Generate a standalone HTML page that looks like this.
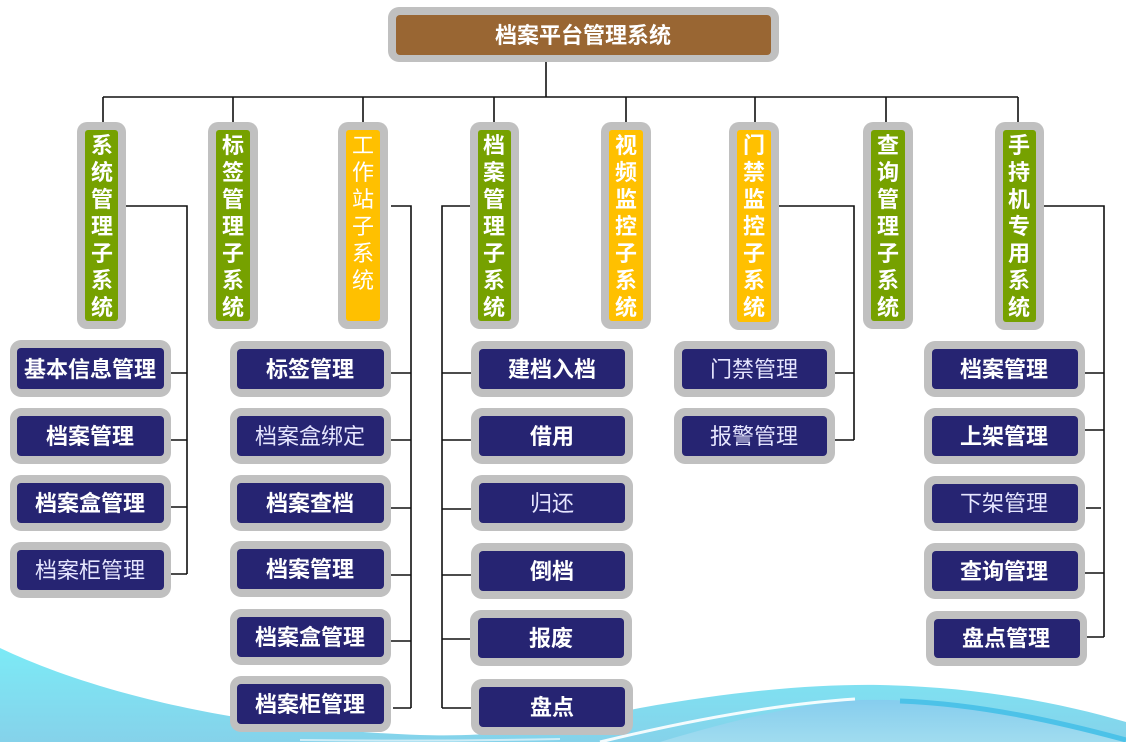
<!DOCTYPE html>
<html>
<head>
<meta charset="utf-8">
<style>
html,body{margin:0;padding:0;background:#fff;}
svg{display:block;}
text{font-family:"Liberation Sans","Noto Sans CJK SC","WenQuanYi Zen Hei",sans-serif;}
.b{font-weight:bold;fill:#fff;font-size:22px;}
.n{font-weight:normal;fill:#e6e6ff;font-size:22px;}
.v{font-weight:bold;fill:#fff;font-size:22px;}
.vn{font-weight:normal;fill:#fff;font-size:22px;}
</style>
</head>
<body>
<svg width="1126" height="742" viewBox="0 0 1126 742" xmlns="http://www.w3.org/2000/svg">
<defs>
<linearGradient id="gl" x1="0" y1="0" x2="0" y2="1">
<stop offset="0" stop-color="#7ceaf6"/>
<stop offset="1" stop-color="#85d2ea"/>
</linearGradient>
<linearGradient id="gr" x1="0" y1="0" x2="0" y2="1">
<stop offset="0" stop-color="#86cdee"/>
<stop offset="1" stop-color="#a0dcef"/>
</linearGradient>
</defs>

<!-- background waves -->
<path d="M0,648 C80,686 220,728 420,735 C520,738 570,722 640,708 C740,690 820,684 880,685 C980,687 1060,703 1126,722 L1126,742 L0,742 Z" fill="url(#gl)"/>
<path d="M660,742 C740,718 810,702 860,700 C960,698 1060,718 1126,742 Z" fill="url(#gr)"/>
<path d="M900,701 C980,704 1060,722 1126,740" stroke="#4cc2e8" stroke-width="5" fill="none"/>
<path d="M600,742 C690,720 780,704 855,699" stroke="#ffffff" stroke-width="3" fill="none" opacity="0.9"/>
<path d="M300,740 C380,741 460,741 560,739" stroke="#ffffff" stroke-width="2" fill="none" opacity="0.6"/>

<!-- connectors -->
<g stroke="#111" stroke-width="1.6" fill="none">
<path d="M546,62 V97"/>
<path d="M103,97 H1018"/>
<path d="M103,97 V122 M233,97 V122 M363,97 V122 M494,97 V122 M626,97 V122 M755,97 V122 M886,97 V122 M1018,97 V122"/>
<!-- col1 -->
<path d="M126,206 H187 V574"/>
<path d="M171,373 H187 M171,440 H187 M171,507 H187 M171,574 H187"/>
<!-- 工作站 -->
<path d="M391,206 H411 V708"/>
<path d="M391,373 H411 M391,440 H411 M391,508 H411 M391,575 H411 M391,641 H411 M393,708 H411"/>
<!-- 档案 -->
<path d="M470,206 H442 V708"/>
<path d="M442,373 H471 M442,440 H471 M442,509 H471 M442,575 H471 M442,639 H471 M442,708 H471"/>
<!-- 门禁 -->
<path d="M779,206 H854 V440"/>
<path d="M835,373 H854 M835,440 H854"/>
<!-- 手持 -->
<path d="M1044,206 H1104 V637"/>
<path d="M1085,373 H1104 M1085,430 H1104 M1086,508 H1101 M1085,573 H1104 M1087,637 H1104"/>
</g>

<!-- top box -->
<rect x="388" y="7" width="391" height="55" rx="11" fill="#c0c0c0"/>
<rect x="396" y="15" width="375" height="40" rx="4" fill="#996633"/>
<text x="583" y="43" text-anchor="middle" class="b">档案平台管理系统</text>

<!-- vertical boxes -->
<g>
<rect x="77" y="122" width="49" height="207" rx="10" fill="#c0c0c0"/>
<rect x="85" y="130" width="33" height="191" rx="3" fill="#76a100"/>
<rect x="208" y="122" width="50" height="207" rx="10" fill="#c0c0c0"/>
<rect x="216" y="130" width="34" height="191" rx="3" fill="#76a100"/>
<rect x="338" y="122" width="50" height="207" rx="10" fill="#c0c0c0"/>
<rect x="346" y="130" width="34" height="191" rx="3" fill="#ffc000"/>
<rect x="470" y="122" width="49" height="207" rx="10" fill="#c0c0c0"/>
<rect x="478" y="130" width="33" height="191" rx="3" fill="#76a100"/>
<rect x="601" y="122" width="50" height="207" rx="10" fill="#c0c0c0"/>
<rect x="609" y="130" width="34" height="191" rx="3" fill="#ffc000"/>
<rect x="729" y="122" width="50" height="208" rx="10" fill="#c0c0c0"/>
<rect x="737" y="130" width="34" height="192" rx="3" fill="#ffc000"/>
<rect x="863" y="122" width="50" height="207" rx="10" fill="#c0c0c0"/>
<rect x="871" y="130" width="34" height="191" rx="3" fill="#76a100"/>
<rect x="995" y="122" width="49" height="208" rx="10" fill="#c0c0c0"/>
<rect x="1003" y="130" width="33" height="192" rx="3" fill="#76a100"/>
</g>

<g text-anchor="middle">
<text class="v" x="102" y="153">系</text><text class="v" x="102" y="180">统</text><text class="v" x="102" y="207">管</text><text class="v" x="102" y="234">理</text><text class="v" x="102" y="261">子</text><text class="v" x="102" y="288">系</text><text class="v" x="102" y="315">统</text>
<text class="v" x="233" y="153">标</text><text class="v" x="233" y="180">签</text><text class="v" x="233" y="207">管</text><text class="v" x="233" y="234">理</text><text class="v" x="233" y="261">子</text><text class="v" x="233" y="288">系</text><text class="v" x="233" y="315">统</text>
<text class="vn" x="363" y="153">工</text><text class="vn" x="363" y="180">作</text><text class="vn" x="363" y="207">站</text><text class="vn" x="363" y="234">子</text><text class="vn" x="363" y="261">系</text><text class="vn" x="363" y="288">统</text>
<text class="v" x="494" y="153">档</text><text class="v" x="494" y="180">案</text><text class="v" x="494" y="207">管</text><text class="v" x="494" y="234">理</text><text class="v" x="494" y="261">子</text><text class="v" x="494" y="288">系</text><text class="v" x="494" y="315">统</text>
<text class="v" x="626" y="153">视</text><text class="v" x="626" y="180">频</text><text class="v" x="626" y="207">监</text><text class="v" x="626" y="234">控</text><text class="v" x="626" y="261">子</text><text class="v" x="626" y="288">系</text><text class="v" x="626" y="315">统</text>
<text class="v" x="754" y="153">门</text><text class="v" x="754" y="180">禁</text><text class="v" x="754" y="207">监</text><text class="v" x="754" y="234">控</text><text class="v" x="754" y="261">子</text><text class="v" x="754" y="288">系</text><text class="v" x="754" y="315">统</text>
<text class="v" x="888" y="153">查</text><text class="v" x="888" y="180">询</text><text class="v" x="888" y="207">管</text><text class="v" x="888" y="234">理</text><text class="v" x="888" y="261">子</text><text class="v" x="888" y="288">系</text><text class="v" x="888" y="315">统</text>
<text class="v" x="1019" y="153">手</text><text class="v" x="1019" y="180">持</text><text class="v" x="1019" y="207">机</text><text class="v" x="1019" y="234">专</text><text class="v" x="1019" y="261">用</text><text class="v" x="1019" y="288">系</text><text class="v" x="1019" y="315">统</text>
</g>

<!-- child boxes -->
<g id="children">
<!-- col1 -->
<rect x="10" y="340" width="161" height="57" rx="11" fill="#c0c0c0"/><rect x="17" y="348" width="147" height="41" rx="4" fill="#262472"/>
<rect x="10" y="408" width="161" height="56" rx="11" fill="#c0c0c0"/><rect x="17" y="416" width="147" height="40" rx="4" fill="#262472"/>
<rect x="10" y="475" width="161" height="56" rx="11" fill="#c0c0c0"/><rect x="17" y="483" width="147" height="40" rx="4" fill="#262472"/>
<rect x="10" y="542" width="161" height="56" rx="11" fill="#c0c0c0"/><rect x="17" y="550" width="147" height="40" rx="4" fill="#262472"/>
<!-- 工作站 -->
<rect x="230" y="341" width="161" height="56" rx="11" fill="#c0c0c0"/><rect x="237" y="349" width="147" height="40" rx="4" fill="#262472"/>
<rect x="230" y="408" width="161" height="56" rx="11" fill="#c0c0c0"/><rect x="237" y="416" width="147" height="40" rx="4" fill="#262472"/>
<rect x="230" y="475" width="161" height="56" rx="11" fill="#c0c0c0"/><rect x="237" y="483" width="147" height="40" rx="4" fill="#262472"/>
<rect x="230" y="541" width="161" height="56" rx="11" fill="#c0c0c0"/><rect x="237" y="549" width="147" height="40" rx="4" fill="#262472"/>
<rect x="230" y="609" width="161" height="56" rx="11" fill="#c0c0c0"/><rect x="237" y="617" width="147" height="40" rx="4" fill="#262472"/>
<rect x="230" y="676" width="161" height="56" rx="11" fill="#c0c0c0"/><rect x="237" y="684" width="147" height="40" rx="4" fill="#262472"/>
<!-- 档案 -->
<rect x="471" y="341" width="162" height="56" rx="11" fill="#c0c0c0"/><rect x="479" y="349" width="146" height="40" rx="4" fill="#262472"/>
<rect x="471" y="408" width="162" height="56" rx="11" fill="#c0c0c0"/><rect x="479" y="416" width="146" height="40" rx="4" fill="#262472"/>
<rect x="471" y="475" width="162" height="56" rx="11" fill="#c0c0c0"/><rect x="479" y="483" width="146" height="40" rx="4" fill="#262472"/>
<rect x="471" y="543" width="162" height="56" rx="11" fill="#c0c0c0"/><rect x="479" y="551" width="146" height="40" rx="4" fill="#262472"/>
<rect x="470" y="610" width="162" height="56" rx="11" fill="#c0c0c0"/><rect x="478" y="618" width="146" height="40" rx="4" fill="#262472"/>
<rect x="471" y="679" width="162" height="56" rx="11" fill="#c0c0c0"/><rect x="479" y="687" width="146" height="40" rx="4" fill="#262472"/>
<!-- 门禁 -->
<rect x="674" y="341" width="161" height="56" rx="11" fill="#c0c0c0"/><rect x="682" y="349" width="145" height="40" rx="4" fill="#262472"/>
<rect x="674" y="408" width="161" height="56" rx="11" fill="#c0c0c0"/><rect x="682" y="416" width="145" height="40" rx="4" fill="#262472"/>
<!-- 手持 -->
<rect x="924" y="341" width="161" height="56" rx="11" fill="#c0c0c0"/><rect x="932" y="349" width="146" height="40" rx="4" fill="#262472"/>
<rect x="924" y="408" width="161" height="56" rx="11" fill="#c0c0c0"/><rect x="932" y="416" width="146" height="40" rx="4" fill="#262472"/>
<rect x="924" y="476" width="161" height="55" rx="11" fill="#c0c0c0"/><rect x="932" y="484" width="146" height="39" rx="4" fill="#262472"/>
<rect x="924" y="543" width="161" height="56" rx="11" fill="#c0c0c0"/><rect x="932" y="551" width="146" height="40" rx="4" fill="#262472"/>
<rect x="926" y="611" width="161" height="55" rx="11" fill="#c0c0c0"/><rect x="934" y="619" width="146" height="39" rx="4" fill="#262472"/>
</g>

<g text-anchor="middle">
<text class="b" x="90" y="377">基本信息管理</text>
<text class="b" x="90" y="444">档案管理</text>
<text class="b" x="90" y="511">档案盒管理</text>
<text class="n" x="90" y="578">档案柜管理</text>

<text class="b" x="310" y="377">标签管理</text>
<text class="n" x="310" y="444">档案盒绑定</text>
<text class="b" x="310" y="511">档案查档</text>
<text class="b" x="310" y="577">档案管理</text>
<text class="b" x="310" y="645">档案盒管理</text>
<text class="b" x="310" y="712">档案柜管理</text>

<text class="b" x="552" y="377">建档入档</text>
<text class="b" x="552" y="444">借用</text>
<text class="n" x="552" y="511">归还</text>
<text class="b" x="552" y="579">倒档</text>
<text class="b" x="551" y="646">报废</text>
<text class="b" x="552" y="715">盘点</text>

<text class="n" x="754" y="377">门禁管理</text>
<text class="n" x="754" y="444">报警管理</text>

<text class="b" x="1004" y="377">档案管理</text>
<text class="b" x="1004" y="444">上架管理</text>
<text class="n" x="1004" y="511">下架管理</text>
<text class="b" x="1004" y="579">查询管理</text>
<text class="b" x="1006" y="646">盘点管理</text>
</g>
</svg>
</body>
</html>
